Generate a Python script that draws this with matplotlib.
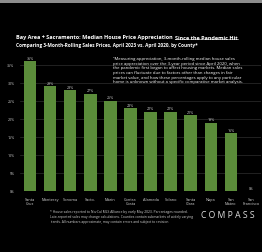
import matplotlib
matplotlib.use("Agg")
import matplotlib.pyplot as plt
from matplotlib.patches import Rectangle
from matplotlib.lines import Line2D

categories = ["Santa\nCruz", "Monterey", "Sonoma", "Sacto.", "Marin", "Contra\nCosta",
              "Alameda", "Solano", "Santa\nClara", "Napa", "San\nMateo", "San\nFrancisco"]
values = [36, 29, 28, 27, 25, 23, 22, 22, 21, 19, 16, 0]
yticks = [0, 5, 10, 15, 20, 25, 30, 35]
ytick_labels = ["0%", "5%", "10%", "15%", "20%", "25%", "30%", "35%"]

W, H = 262, 253
fig = plt.figure(figsize=(W / 100, H / 100), dpi=100, facecolor="black")
plt.rcParams["font.family"] = ["Open Sans", "DejaVu Sans"]

# top gray band
fig.patches.append(Rectangle((0, 1 - 4 / H), 1, 4 / H, transform=fig.transFigure,
                             facecolor="#8c8c8c", edgecolor="none", zorder=0))

ax = fig.add_axes([20 / W, 61 / H, 241 / W, 137 / H], facecolor="black")
x = list(range(len(categories)))
ax.bar(x, values, width=0.62, color="#5b8c3a", zorder=3)
for xi, v in zip(x, values):
    ax.text(xi, v + 0.4, f"{v}%", ha="center", va="bottom", color="#d0d0d0",
            fontsize=2.6, zorder=4)
ax.set_xlim(-0.5, 11.5)
ax.set_ylim(0, 38)
ax.set_yticks(yticks)
ax.set_yticklabels(ytick_labels, color="#d0d0d0", fontsize=2.6)
ax.set_xticks(x)
ax.set_xticklabels(categories, color="#d0d0d0", fontsize=2.8, linespacing=1.1)
ax.tick_params(length=0, pad=4)
ax.yaxis.grid(True, color="#2e2e2e", linewidth=0.5, zorder=0)
ax.axhline(0, color="#555555", linewidth=0.5, zorder=2)
for s in ax.spines.values():
    s.set_visible(False)

# titles
renderer = fig.canvas.get_renderer()
ty = 1 - 38 / H
t1 = fig.text(16 / W, ty, "Bay Area + Sacramento: Median House Price Appreciation",
              color="white", fontsize=3.95, fontweight="bold", va="center", ha="left")
bb1 = t1.get_window_extent(renderer)
t2 = fig.text((bb1.x1 + 2.5) / W, ty, "Since the Pandemic Hit", color="white", fontsize=3.95,
              fontweight="bold", va="center", ha="left")
bb2 = t2.get_window_extent(renderer)
uy = (bb2.y0 + 0.3) / H
fig.lines.append(Line2D([bb2.x0 / W, bb2.x1 / W], [uy, uy], transform=fig.transFigure,
                        color="white", linewidth=0.4))
fig.text(16 / W, 1 - 45.5 / H,
         "Comparing 3-Month-Rolling Sales Prices, April 2023 vs. April 2020, by County*",
         color="white", fontsize=3.45, fontweight="bold", va="center", ha="left")

note = ("\u201cMeasuring appreciation, 3-month-rolling median house sales\n"
        "price appreciation over the 3-year period since April 2020, when\n"
        "the pandemic first began to affect housing markets. Median sales\n"
        "prices can fluctuate due to factors other than changes in fair\n"
        "market value, and how these percentages apply to any particular\n"
        "home is unknown without a specific comparative market analysis.")
fig.text(113 / W, 1 - 57 / H, note, color="white", fontsize=3.05, va="top", ha="left",
         linespacing=1.22)

foot = ("* House sales reported to NorCal MLS Alliance by early May 2023. Percentages rounded.\n"
        "Late-reported sales may change calculations. Counties contain submarkets of widely varying\n"
        "trends. All numbers approximate, may contain errors and subject to revision.")
fig.text(50 / W, 1 - 210 / H, foot, color="#d0d0d0", fontsize=2.4, va="top", ha="left",
         linespacing=1.3)

fig.text(228 / W, 1 - 216 / H, "C O M P A S S", color="#e0e0e0", fontsize=6.2,
         va="center", ha="center")

fig.savefig("out.png", dpi=100, facecolor="black")
